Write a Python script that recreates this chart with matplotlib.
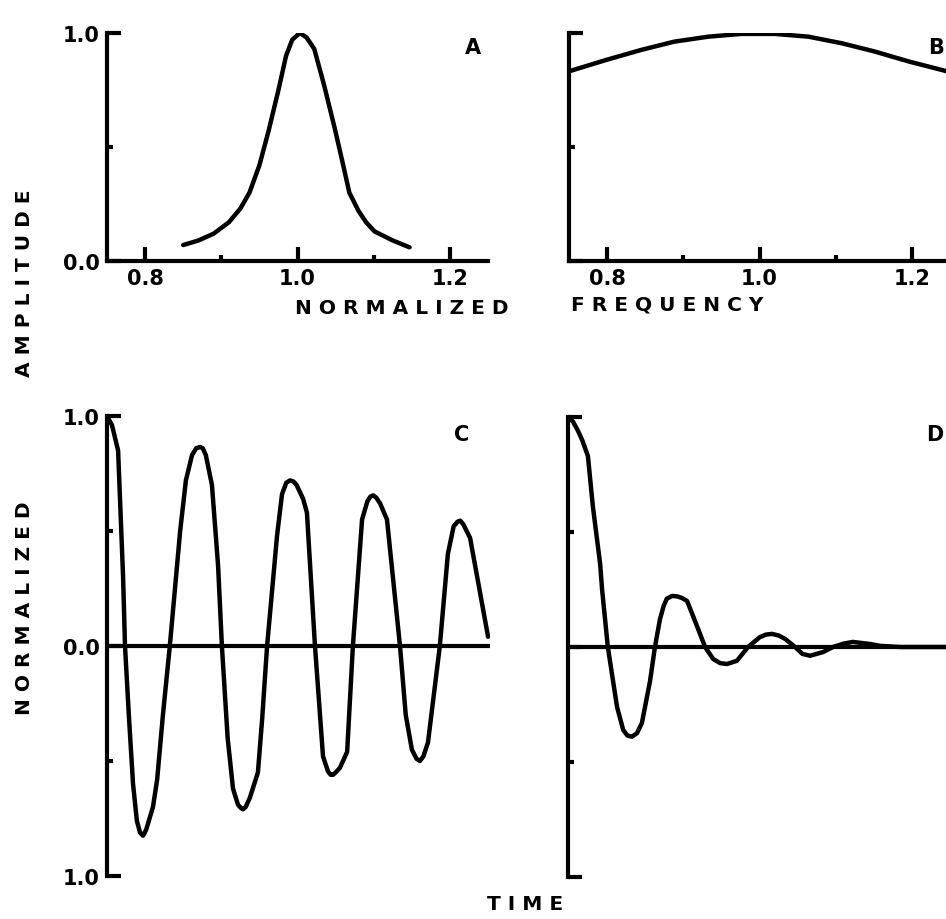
import numpy as np
import matplotlib
import matplotlib.pyplot as plt
from matplotlib.ticker import FixedLocator

matplotlib.use('Agg')

plt.rcParams['font.family'] = ['DejaVu Sans']
plt.rcParams['font.weight'] = 'bold'

# Panel A: narrow resonance, amplitude vs normalized frequency
freq_a = [0.85, 0.87, 0.89, 0.91, 0.925, 0.937, 0.95, 0.962, 0.975, 0.985,
          0.993, 1.003, 1.012, 1.022, 1.035, 1.049, 1.06, 1.068, 1.08, 1.09,
          1.101, 1.125, 1.147]
amp_a = [0.07, 0.09, 0.12, 0.17, 0.23, 0.30, 0.42, 0.57, 0.75, 0.90,
         0.97, 1.0, 0.98, 0.93, 0.77, 0.58, 0.42, 0.30, 0.22, 0.17,
         0.13, 0.09, 0.06]

# Panel B: broad resonance
freq_b = [0.75, 0.80, 0.845, 0.888, 0.933, 0.976, 1.02, 1.064, 1.108, 1.151,
          1.196, 1.246]
amp_b = [0.832, 0.883, 0.926, 0.962, 0.984, 0.996, 0.996, 0.984, 0.955, 0.919,
         0.875, 0.832]

# Panel C: slowly damped ringing (time in arbitrary units 0..10)
time_c = [0, 0.13, 0.29, 0.42, 0.47, 0.57, 0.68, 0.78, 0.86, 0.94, 1.02, 1.20,
          1.31, 1.46, 1.64, 1.91, 2.06, 2.22, 2.33, 2.43, 2.50, 2.58, 2.74, 2.90,
          3.00, 3.15, 3.29, 3.42, 3.50, 3.55, 3.62, 3.73, 3.94, 4.05, 4.18, 4.44,
          4.57, 4.68, 4.78, 4.87, 4.95, 5.12, 5.22, 5.43, 5.64, 5.77, 5.84, 5.90,
          5.97, 6.08, 6.27, 6.42, 6.66, 6.80, 6.88, 6.95, 7.03, 7.13, 7.31, 7.65,
          7.80, 7.96, 8.08, 8.17, 8.26, 8.38, 8.69, 8.90, 9.05, 9.15, 9.22, 9.30,
          9.48, 9.95]
sig_c = [1.0, 0.96, 0.85, 0.30, 0.0, -0.30, -0.60, -0.76, -0.81, -0.825,
         -0.80, -0.70, -0.58, -0.30, 0.0, 0.50, 0.72, 0.83, 0.86, 0.865, 0.86,
         0.83, 0.70, 0.35, 0.0, -0.40, -0.62, -0.69, -0.705, -0.71, -0.70,
         -0.66, -0.55, -0.32, 0.0, 0.48, 0.66, 0.71, 0.72, 0.715, 0.70, 0.64,
         0.58, 0.0, -0.48, -0.545, -0.56, -0.56, -0.55, -0.53, -0.46, 0.0, 0.55,
         0.63, 0.65, 0.655, 0.645, 0.62, 0.55, 0.0, -0.30, -0.45, -0.49, -0.50,
         -0.48, -0.42, 0.0, 0.40, 0.52, 0.54, 0.545, 0.53, 0.47, 0.04]

# Panel D: quickly damped ringing
time_d = [0, 0.13, 0.26, 0.37, 0.52, 0.65, 0.84, 0.89, 1.04, 1.28, 1.44, 1.55,
          1.67, 1.80, 1.93, 2.14, 2.27, 2.40, 2.50, 2.58, 2.72, 2.85, 2.98, 3.11,
          3.37, 3.58, 3.79, 3.97, 4.15, 4.41, 4.70, 5.01, 5.17, 5.33, 5.50, 5.67,
          5.93, 6.12, 6.32, 6.66, 6.92, 7.20, 7.44, 7.89, 8.15, 8.67, 10.0]
sig_d = [1.0, 0.98, 0.94, 0.90, 0.83, 0.61, 0.36, 0.25, 0.0, -0.26, -0.36,
         -0.385, -0.39, -0.375, -0.33, -0.15, 0.0, 0.12, 0.18, 0.21, 0.222,
         0.22, 0.213, 0.20, 0.09, 0.0, -0.052, -0.07, -0.074, -0.06, 0.0, 0.043,
         0.054, 0.057, 0.05, 0.035, 0.0, -0.03, -0.038, -0.022, 0.0, 0.015,
         0.022, 0.013, 0.005, 0.0, 0.0]

freq_major = [0.8, 1.0, 1.2]
freq_minor = [0.9, 1.1]
freq_labels = ['0.8', '1.0', '1.2']

LW = 3.2
SPINE_W = 3.0
TICK_FS = 15
LABEL_FS = 14.5

fig = plt.figure(figsize=(9.46, 9.2), dpi=100)

ax_a = fig.add_axes([107/946, 658/920, 381/946, 228/920])
ax_b = fig.add_axes([569/946, 658/920, 381/946, 228/920])
ax_c = fig.add_axes([107/946, 43/920, 383/946, 460/920])
ax_d = fig.add_axes([568/946, 42/920, 383/946, 460/920])


def style_axes(ax, show_bottom):
    for side in ['top', 'right']:
        ax.spines[side].set_visible(False)
    ax.spines['left'].set_linewidth(SPINE_W)
    ax.spines['bottom'].set_linewidth(SPINE_W)
    ax.spines['bottom'].set_visible(show_bottom)
    ax.tick_params(which='major', direction='in', length=10, width=SPINE_W,
                   labelsize=TICK_FS, pad=5)
    ax.tick_params(which='minor', direction='in', length=4, width=SPINE_W)


# Frequency panels
for ax, f, a in [(ax_a, freq_a, amp_a), (ax_b, freq_b, amp_b)]:
    style_axes(ax, True)
    ax.plot(f, a, color='black', lw=LW, solid_capstyle='round',
            solid_joinstyle='round')
    ax.set_xlim(0.75, 1.25)
    ax.set_ylim(0, 1.0)
    ax.xaxis.set_major_locator(FixedLocator(freq_major))
    ax.xaxis.set_minor_locator(FixedLocator(freq_minor))
    ax.set_xticklabels(freq_labels, fontweight='bold')
    ax.yaxis.set_major_locator(FixedLocator([0.0, 1.0]))
    ax.yaxis.set_minor_locator(FixedLocator([0.5]))

ax_a.set_yticklabels(['0.0', '1.0'], fontweight='bold')
ax_b.set_yticklabels([])

# Time panels
for ax, t, s in [(ax_c, time_c, sig_c), (ax_d, time_d, sig_d)]:
    style_axes(ax, False)
    ax.plot(t, s, color='black', lw=LW, solid_capstyle='round',
            solid_joinstyle='round')
    ax.axhline(0, color='black', lw=SPINE_W)
    ax.set_xlim(0, 10)
    ax.set_ylim(-1.0, 1.0)
    ax.set_xticks([])
    ax.yaxis.set_major_locator(FixedLocator([-1.0, 0.0, 1.0]))
    ax.yaxis.set_minor_locator(FixedLocator([-0.5, 0.5]))

ax_c.set_yticklabels(['1.0', '0.0', '1.0'], fontweight='bold')
ax_d.set_yticklabels([])

# Panel letters
for x, y, s in [(473, 48, 'A'), (936, 48, 'B'), (462, 435, 'C'),
                (935, 435, 'D')]:
    fig.text(x/946, 1 - y/920, s, fontsize=TICK_FS, fontweight='bold',
             ha='center', va='center')

# Axis titles, letter-spaced
fig.text(402/946, 1 - 308/920, 'N O R M A L I Z E D', fontsize=LABEL_FS,
         fontweight='bold', ha='center', va='center')
fig.text(667/946, 1 - 305/920, 'F R E Q U E N C Y', fontsize=LABEL_FS,
         fontweight='bold', ha='center', va='center')
fig.text(25/946, 1 - 283/920, 'A M P L I T U D E', fontsize=LABEL_FS,
         fontweight='bold', ha='center', va='center', rotation=90)
fig.text(25/946, 1 - 608/920, 'N O R M A L I Z E D', fontsize=LABEL_FS,
         fontweight='bold', ha='center', va='center', rotation=90)
fig.text(525/946, 1 - 905/920, 'T I M E', fontsize=LABEL_FS,
         fontweight='bold', ha='center', va='center')

fig.savefig('out.png', dpi=100)
